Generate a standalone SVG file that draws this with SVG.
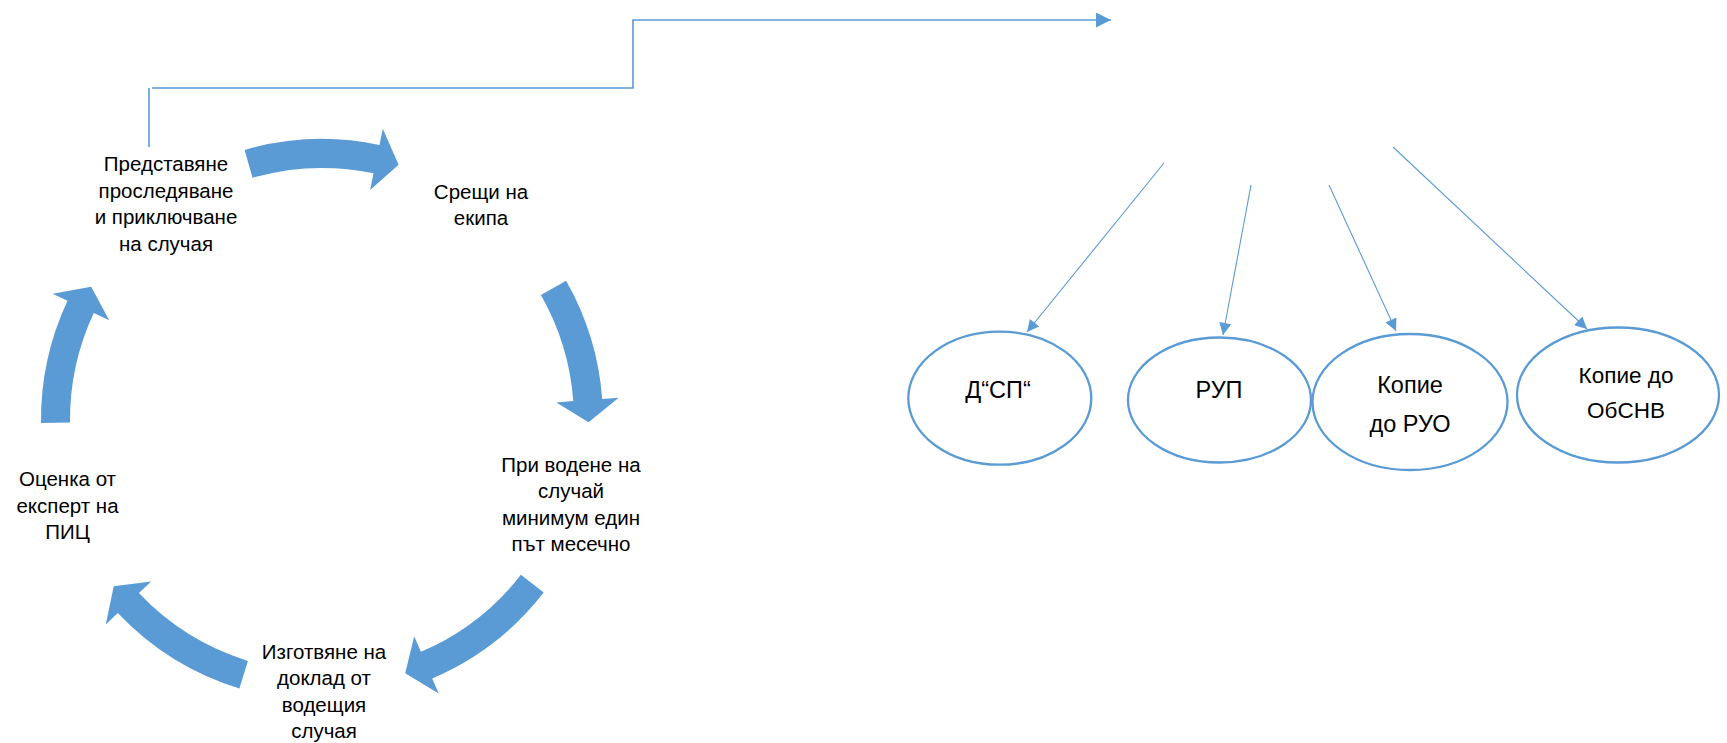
<svg xmlns="http://www.w3.org/2000/svg" width="1727" height="743" viewBox="0 0 1727 743">
<style>
.t{font-family:"Liberation Sans","Noto Sans",Arial,sans-serif;font-size:20.5px;fill:#000;text-anchor:middle}
.te{font-family:"Liberation Sans","Noto Sans",Arial,sans-serif;font-size:23.5px;fill:#000;text-anchor:middle}
.ca{fill:#5B9BD5;stroke:none}
.ln{stroke:#5B9BD5;stroke-width:1.1;fill:none}
.lt{stroke:#5B9BD5;stroke-width:1.6;fill:none}
.el{fill:#fff;stroke:#5B9BD5;stroke-width:2.3}
</style>
<defs>
<marker id="ah" viewBox="0 0 10 10" refX="10" refY="5" markerUnits="userSpaceOnUse" markerWidth="15" markerHeight="12" orient="auto">
<path d="M0,0 L10,5 L0,10 z" fill="#5B9BD5"/>
</marker>
<marker id="ahT" viewBox="0 0 10 10" refX="10" refY="5" markerUnits="userSpaceOnUse" markerWidth="16" markerHeight="15" orient="auto">
<path d="M0,0 L10,5 L0,10 z" fill="#5B9BD5"/>
</marker>
</defs>
<rect width="1727" height="743" fill="#fff"/>
<g id="connectors">
<path class="ca" d="M244.6,149.9 A281,281 0 0 1 379.5,144.9 L382.8,128.8 L398.6,164.7 L370.1,190 L373.5,173.3 A252,252 0 0 0 252.5,177.8 Z"/>
<path class="ca" d="M566.1,280.8 A281,281 0 0 1 602.2,398.9 L618.7,397.7 L588.5,422.3 L556.3,402.4 L573.3,401.1 A252,252 0 0 0 540.9,295.1 Z"/>
<path class="ca" d="M543.7,592.6 A281,281 0 0 1 432.2,678.5 L438.7,693.6 L405.2,673.2 L414.2,636.2 L420.9,651.8 A252,252 0 0 0 520.9,574.8 Z"/>
<path class="ca" d="M239.4,688.6 A281,281 0 0 1 117.8,613.1 L105.8,624.4 L113.7,586.3 L151.2,581.5 L138.9,593.1 A252,252 0 0 0 247.9,660.9 Z"/>
<path class="ca" d="M41,422.9 A281,281 0 0 1 67.5,300.8 L52.6,293.8 L91.2,286.7 L109.2,320.3 L93.8,313.1 A252,252 0 0 0 70,422.6 Z"/>
<line class="lt" x1="149" y1="88" x2="149" y2="147"/>
<polyline class="lt" points="152,88 633,88 633,20 1111,20" marker-end="url(#ahT)"/>
<line class="ln" x1="1164" y1="163" x2="1027" y2="332" marker-end="url(#ah)"/>
<line class="ln" x1="1251" y1="185" x2="1223" y2="335" marker-end="url(#ah)"/>
<line class="ln" x1="1329" y1="185" x2="1396" y2="331" marker-end="url(#ah)"/>
<line class="ln" x1="1393" y1="147" x2="1587" y2="329" marker-end="url(#ah)"/>
</g>
<g id="node-predstavyane">
<text class="t" x="166" y="171">Представяне</text>
<text class="t" x="166" y="197.5">проследяване</text>
<text class="t" x="166" y="224">и приключване</text>
<text class="t" x="166" y="250.5">на случая</text>
</g>
<g id="node-sreshti">
<text class="t" x="481" y="198.5">Срещи на</text>
<text class="t" x="481" y="224.5">екипа</text>
</g>
<g id="node-pri-vodene">
<text class="t" x="571" y="471.5">При водене на</text>
<text class="t" x="571" y="498">случай</text>
<text class="t" x="571" y="524.5">минимум един</text>
<text class="t" x="571" y="551">път месечно</text>
</g>
<g id="node-izgotvyane">
<text class="t" x="324" y="658.5">Изготвяне на</text>
<text class="t" x="324" y="685">доклад от</text>
<text class="t" x="324" y="711.5">водещия</text>
<text class="t" x="324" y="738">случая</text>
</g>
<g id="node-otsenka">
<text class="t" x="67.5" y="486">Оценка от</text>
<text class="t" x="67.5" y="512.5">експерт на</text>
<text class="t" x="67.5" y="539">ПИЦ</text>
</g>
<g id="node-dsp">
<ellipse class="el" cx="999.8" cy="398.2" rx="91.5" ry="66.5"/>
<text class="te" x="998" y="398">Д“СП“</text>
</g>
<g id="node-rup">
<ellipse class="el" cx="1219.5" cy="400" rx="91.5" ry="62.5"/>
<text class="te" x="1219" y="398">РУП</text>
</g>
<g id="node-ruo">
<ellipse class="el" cx="1410" cy="402" rx="97.5" ry="68"/>
<text class="te" x="1410" y="392.7">Копие</text>
<text class="te" x="1410" y="431.7">до РУО</text>
</g>
<g id="node-obsnv">
<ellipse class="el" cx="1618" cy="395" rx="101" ry="67.5"/>
<text class="te" x="1626" y="382.7" style="font-size:22.5px">Копие до</text>
<text class="te" x="1626" y="418.3" style="font-size:22.5px">ОбСНВ</text>
</g>
</svg>
